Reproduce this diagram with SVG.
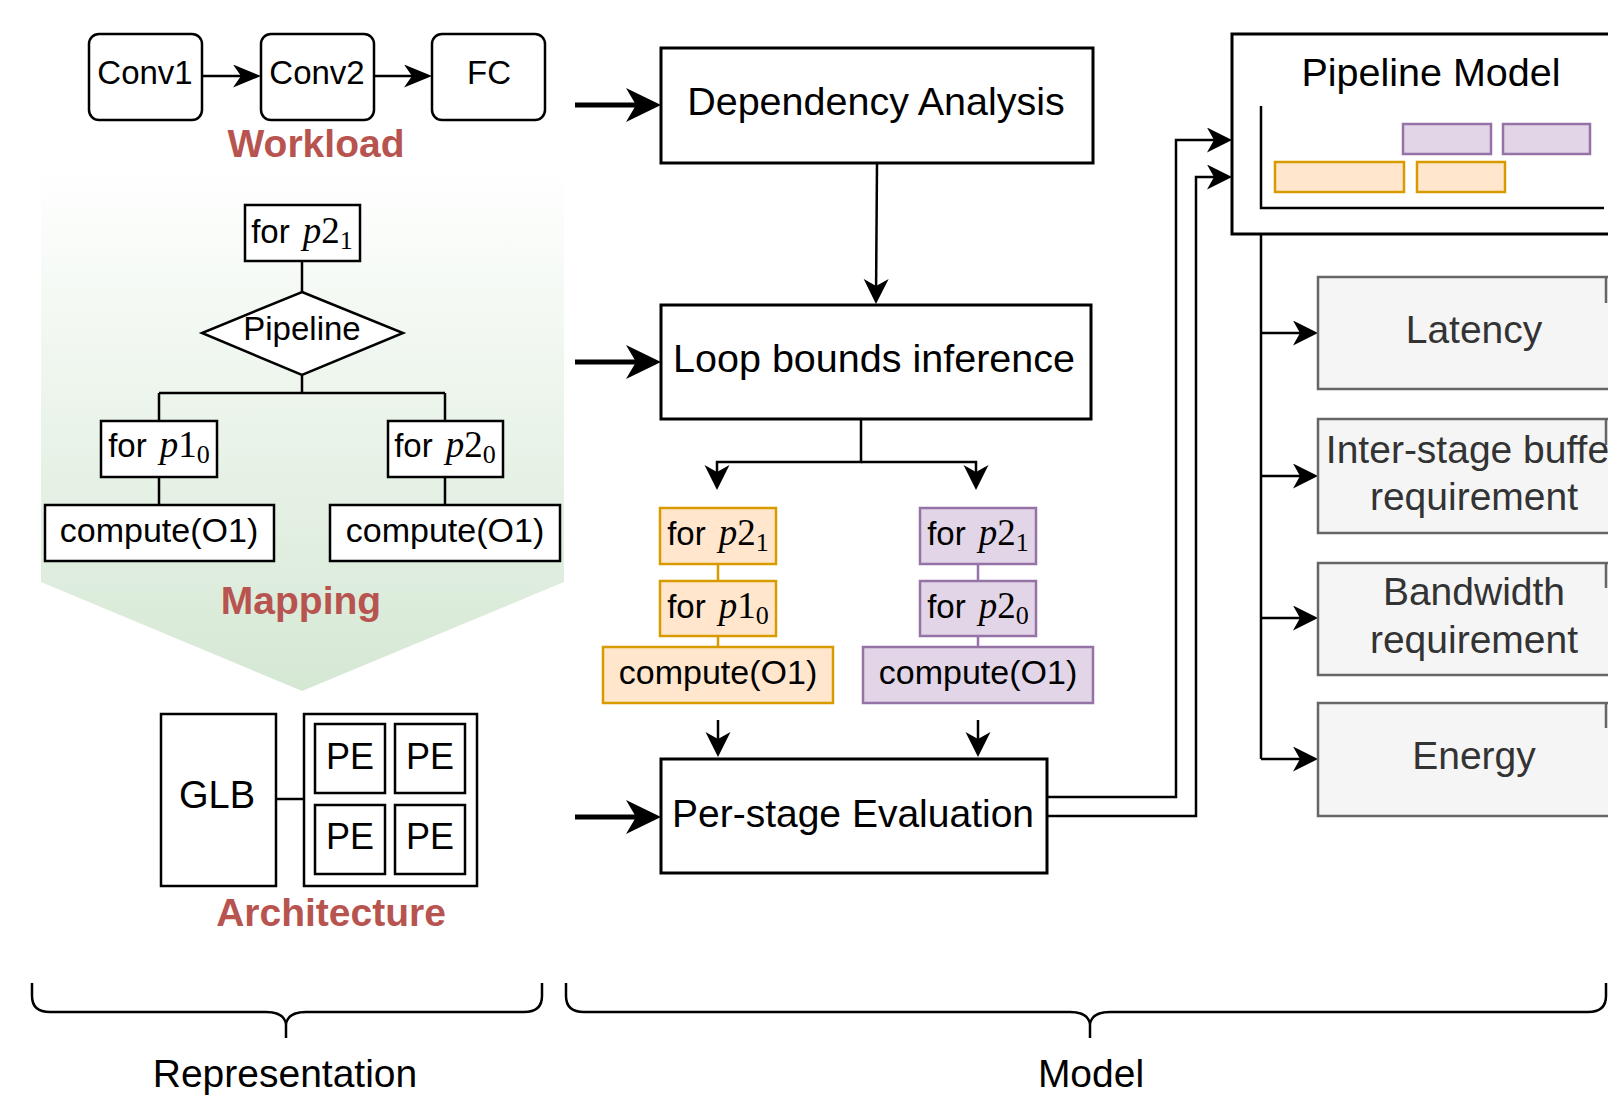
<svg xmlns="http://www.w3.org/2000/svg" width="1608" height="1098" viewBox="0 0 1608 1098">
<style>
.box{fill:#fff;stroke:#000;stroke-width:2.5}
.big{fill:#fff;stroke:#000;stroke-width:3}
.org{fill:#ffe6cc;stroke:#d79b00;stroke-width:2.5}
.pur{fill:#e1d5e7;stroke:#9673a6;stroke-width:2.5}
.gry{fill:#f5f5f5;stroke:#666;stroke-width:2.5}
.t{font-family:"Liberation Sans",Arial,sans-serif;fill:#000;text-anchor:middle}
.g{fill:#333}
.lbl{font-family:"Liberation Sans",Arial,sans-serif;font-weight:bold;fill:#b85450;text-anchor:middle;font-size:39px}
.m{font-family:"Liberation Serif","Times New Roman",serif;font-size:37px}
.s{font-family:"Liberation Serif","Times New Roman",serif;font-size:26px}
.conn{fill:none;stroke:#000;stroke-width:2.5}
.thick{fill:none;stroke:#000;stroke-width:5}
.oc{stroke:#d79b00;stroke-width:2.5}
.pc{stroke:#9673a6;stroke-width:2.5}
</style>
<defs>
<linearGradient id="gr" gradientUnits="userSpaceOnUse" x1="0" y1="165" x2="0" y2="691">
<stop offset="0" stop-color="#ffffff"/>
<stop offset="1" stop-color="#d5e8d4"/>
</linearGradient>
<marker id="ah" markerUnits="userSpaceOnUse" viewBox="0 0 26 26" markerWidth="26" markerHeight="26" refX="20" refY="12.5" orient="auto"><path d="M0,0 L25,12.5 L0,25 L7,12.5 Z" fill="#000"/></marker>
<marker id="am" markerUnits="userSpaceOnUse" viewBox="0 0 29 24" markerWidth="29" markerHeight="24" refX="22" refY="11.5" orient="auto"><path d="M0,0 L28,11.5 L0,23 L8,11.5 Z" fill="#000"/></marker>
<marker id="ab" markerUnits="userSpaceOnUse" viewBox="0 0 36 34" markerWidth="36" markerHeight="34" refX="25" refY="17" orient="auto"><path d="M0,0 L35,17 L0,34 L10,17 Z" fill="#000"/></marker>
</defs>
<rect width="1608" height="1098" fill="#fff"/>

<g id="mapping-bg"><path d="M41,165 H564 V582 L302,691 L41,582 Z" fill="url(#gr)"/></g>

<g id="connectors">
<line class="conn" x1="202" y1="76" x2="255" y2="76" marker-end="url(#am)"/>
<line class="conn" x1="375" y1="76" x2="426" y2="76" marker-end="url(#am)"/>
<path class="conn" d="M302,261 V292 M302,375 V393 M159,393 H445 M159,393 V421 M445,393 V421 M159,477 V505 M445,477 V505"/>
<line class="conn" x1="276" y1="799" x2="304" y2="799"/>
<line class="thick" x1="575" y1="105" x2="651" y2="105" marker-end="url(#ab)"/>
<line class="thick" x1="575" y1="362" x2="651" y2="362" marker-end="url(#ab)"/>
<line class="thick" x1="575" y1="817" x2="651" y2="817" marker-end="url(#ab)"/>
<line class="conn" x1="877" y1="163" x2="876" y2="299" marker-end="url(#ah)"/>
<path class="conn" d="M861,419 V462 H717 V485" marker-end="url(#ah)"/>
<path class="conn" d="M861,462 H976 V485" marker-end="url(#ah)"/>
<line class="oc" x1="718" y1="564" x2="718" y2="581"/>
<line class="oc" x1="718" y1="636" x2="718" y2="647"/>
<line class="pc" x1="978" y1="564" x2="978" y2="581"/>
<line class="pc" x1="978" y1="636" x2="978" y2="647"/>
<line class="conn" x1="718" y1="720" x2="718" y2="752" marker-end="url(#ah)"/>
<line class="conn" x1="978" y1="720" x2="978" y2="752" marker-end="url(#ah)"/>
<path class="conn" d="M1047,797 H1176 V140 H1227" marker-end="url(#ah)"/>
<path class="conn" d="M1047,816 H1196 V177 H1227" marker-end="url(#ah)"/>
<path class="conn" d="M1261,234 V759"/>
<line class="conn" x1="1261" y1="333" x2="1313" y2="333" marker-end="url(#ah)"/>
<line class="conn" x1="1261" y1="476" x2="1313" y2="476" marker-end="url(#ah)"/>
<line class="conn" x1="1261" y1="618" x2="1313" y2="618" marker-end="url(#ah)"/>
<line class="conn" x1="1261" y1="759" x2="1313" y2="759" marker-end="url(#ah)"/>
</g>

<g id="conv1"><rect class="box" x="89" y="34" width="113" height="86" rx="10"/><text class="t" x="145" y="84" font-size="33">Conv1</text></g>
<g id="conv2"><rect class="box" x="261" y="34" width="113" height="86" rx="10"/><text class="t" x="317" y="84" font-size="33">Conv2</text></g>
<g id="fc"><rect class="box" x="432" y="34" width="113" height="86" rx="10"/><text class="t" x="489" y="84" font-size="33">FC</text></g>
<g id="workload-label"><text class="lbl" x="316" y="157">Workload</text></g>

<g id="for-p21"><rect class="box" x="245" y="205" width="115" height="56"/><text class="t" x="302" y="243" font-size="33">for <tspan class="m" font-style="italic" dx="4">p</tspan><tspan class="m">2</tspan><tspan class="s" dy="6">1</tspan></text></g>
<g id="pipeline"><path class="box" d="M302,292 L403,333 L302,375 L202,333 Z"/><text class="t" x="302" y="340" font-size="33">Pipeline</text></g>
<g id="for-p10"><rect class="box" x="101" y="421" width="116" height="56"/><text class="t" x="159" y="457" font-size="33">for <tspan class="m" font-style="italic" dx="4">p</tspan><tspan class="m">1</tspan><tspan class="s" dy="6">0</tspan></text></g>
<g id="for-p20"><rect class="box" x="388" y="421" width="115" height="56"/><text class="t" x="445" y="457" font-size="33">for <tspan class="m" font-style="italic" dx="4">p</tspan><tspan class="m">2</tspan><tspan class="s" dy="6">0</tspan></text></g>
<g id="compute-l"><rect class="box" x="45" y="505" width="229" height="56"/><text class="t" x="159" y="542" font-size="34">compute(O1)</text></g>
<g id="compute-r"><rect class="box" x="330" y="505" width="230" height="56"/><text class="t" x="445" y="542" font-size="34">compute(O1)</text></g>
<g id="mapping-label"><text class="lbl" x="301" y="614">Mapping</text></g>

<g id="glb"><rect class="box" x="161" y="714" width="115" height="172"/><text class="t" x="217" y="808" font-size="38">GLB</text></g>
<g id="pe-array"><rect class="box" x="304" y="714" width="173" height="172"/>
<rect class="box" x="315" y="724" width="70" height="69"/><text class="t" x="350" y="769" font-size="36">PE</text>
<rect class="box" x="395" y="724" width="70" height="69"/><text class="t" x="430" y="769" font-size="36">PE</text>
<rect class="box" x="315" y="805" width="70" height="69"/><text class="t" x="350" y="849" font-size="36">PE</text>
<rect class="box" x="395" y="805" width="70" height="69"/><text class="t" x="430" y="849" font-size="36">PE</text></g>
<g id="architecture-label"><text class="lbl" x="331" y="926">Architecture</text></g>

<g id="dependency"><rect class="big" x="661" y="48" width="432" height="115"/><text class="t" x="876" y="115" font-size="39.5">Dependency Analysis</text></g>
<g id="loop-bounds"><rect class="big" x="661" y="305" width="430" height="114"/><text class="t" x="874" y="372" font-size="39.5">Loop bounds inference</text></g>

<g id="o-for-p21"><rect class="org" x="660" y="508" width="116" height="56"/><text class="t" x="718" y="545" font-size="33">for <tspan class="m" font-style="italic" dx="4">p</tspan><tspan class="m">2</tspan><tspan class="s" dy="6">1</tspan></text></g>
<g id="o-for-p10"><rect class="org" x="660" y="581" width="116" height="55"/><text class="t" x="718" y="618" font-size="33">for <tspan class="m" font-style="italic" dx="4">p</tspan><tspan class="m">1</tspan><tspan class="s" dy="6">0</tspan></text></g>
<g id="o-compute"><rect class="org" x="603" y="647" width="230" height="56"/><text class="t" x="718" y="684" font-size="34">compute(O1)</text></g>
<g id="p-for-p21"><rect class="pur" x="920" y="508" width="116" height="56"/><text class="t" x="978" y="545" font-size="33">for <tspan class="m" font-style="italic" dx="4">p</tspan><tspan class="m">2</tspan><tspan class="s" dy="6">1</tspan></text></g>
<g id="p-for-p20"><rect class="pur" x="920" y="581" width="116" height="55"/><text class="t" x="978" y="618" font-size="33">for <tspan class="m" font-style="italic" dx="4">p</tspan><tspan class="m">2</tspan><tspan class="s" dy="6">0</tspan></text></g>
<g id="p-compute"><rect class="pur" x="863" y="647" width="230" height="56"/><text class="t" x="978" y="684" font-size="34">compute(O1)</text></g>

<g id="per-stage"><rect class="big" x="661" y="759" width="386" height="114"/><text class="t" x="853" y="827" font-size="39">Per-stage Evaluation</text></g>

<g id="pipeline-model"><rect class="big" x="1232" y="34" width="420" height="200"/><text class="t" x="1431" y="86" font-size="39.5">Pipeline Model</text>
<path class="conn" d="M1261,106 V208 H1604"/>
<rect class="pur" x="1403" y="124" width="88" height="30"/>
<rect class="pur" x="1503" y="124" width="87" height="30"/>
<rect class="org" x="1275" y="162" width="129" height="30"/>
<rect class="org" x="1417" y="162" width="88" height="30"/></g>

<g id="latency"><rect class="gry" x="1318" y="277" width="330" height="112"/><line x1="1606" y1="277" x2="1606" y2="303" stroke="#666" stroke-width="2.5"/><text class="t g" x="1474" y="343" font-size="39">Latency</text></g>
<g id="buffer"><rect class="gry" x="1318" y="419" width="330" height="114"/><line x1="1606" y1="419" x2="1606" y2="445" stroke="#666" stroke-width="2.5"/><text class="t g" x="1474" y="463" font-size="39">Inter-stage buffer</text><text class="t g" x="1474" y="510" font-size="39">requirement</text></g>
<g id="bandwidth"><rect class="gry" x="1318" y="563" width="330" height="112"/><line x1="1606" y1="563" x2="1606" y2="588" stroke="#666" stroke-width="2.5"/><text class="t g" x="1474" y="605" font-size="39">Bandwidth</text><text class="t g" x="1474" y="653" font-size="39">requirement</text></g>
<g id="energy"><rect class="gry" x="1318" y="703" width="330" height="113"/><line x1="1606" y1="703" x2="1606" y2="728" stroke="#666" stroke-width="2.5"/><text class="t g" x="1474" y="769" font-size="39">Energy</text></g>

<g id="representation-brace"><path class="conn" d="M32,983 V996 Q32,1012 50,1012 H266 Q284,1012 286,1024 Q288,1012 306,1012 H524 Q542,1012 542,996 V983 M286,1022 V1038"/><text class="t" x="285" y="1087" font-size="39">Representation</text></g>
<g id="model-brace"><path class="conn" d="M566,983 V996 Q566,1012 584,1012 H1070 Q1088,1012 1090,1024 Q1092,1012 1110,1012 H1588 Q1606,1012 1606,996 V983 M1090,1022 V1038"/><text class="t" x="1091" y="1087" font-size="39">Model</text></g>
</svg>
